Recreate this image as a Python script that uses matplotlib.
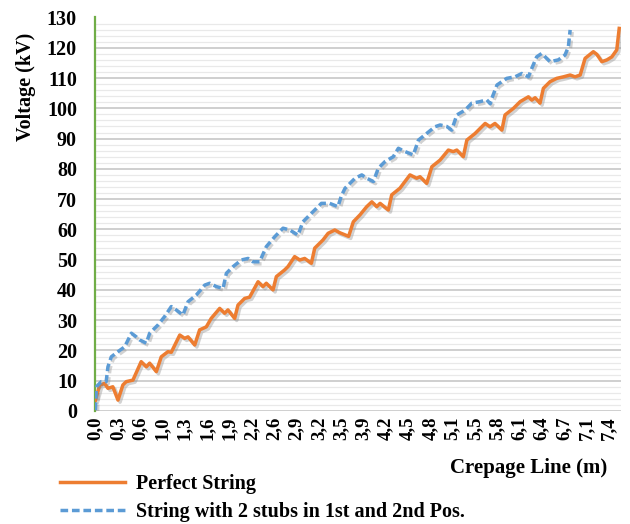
import matplotlib
matplotlib.use("Agg")
import matplotlib.pyplot as plt
import matplotlib.patheffects as pe
from matplotlib.lines import Line2D
from matplotlib.ticker import MultipleLocator

plt.rcParams["font.family"] = ["Liberation Serif", "DejaVu Serif"]
plt.rcParams["font.weight"] = "bold"

# Category labels along the crepage line (m), one every 10 samples
tick_labels = ["0,0", "0,3", "0,6", "1,0", "1,3", "1,6", "1,9", "2,2", "2,6", "2,9",
               "3,2", "3,5", "3,9", "4,2", "4,5", "4,8", "5,1", "5,5", "5,8", "6,1",
               "6,4", "6,7", "7,1", "7,4"]

# Perfect string: position in category-label units, voltage in kV
perfect_pos = [0.0, 0.19, 0.41, 0.56, 0.78, 1.01, 1.23, 1.38, 1.68, 2.05, 2.28, 2.43,
               2.73, 2.95, 3.25, 3.40, 3.78, 4.00, 4.15, 4.45, 4.67, 4.97, 5.19, 5.57,
               5.79, 5.94, 6.24, 6.39, 6.69, 6.91, 7.29, 7.51, 7.66, 7.96, 8.11, 8.48,
               8.63, 8.93, 9.16, 9.38, 9.68, 9.83, 10.20, 10.43, 10.73, 10.95, 11.35,
               11.56, 11.86, 12.16, 12.39, 12.61, 12.76, 13.13, 13.28, 13.65, 14.10,
               14.40, 14.55, 14.85, 15.08, 15.45, 15.82, 16.04, 16.20, 16.49, 16.65,
               17.02, 17.47, 17.69, 17.91, 18.22, 18.36, 18.74, 19.04, 19.41, 19.56,
               19.71, 19.93, 20.08, 20.38, 20.68, 20.98, 21.28, 21.50, 21.73, 21.95,
               22.32, 22.48, 22.70, 22.93, 23.15, 23.37, 23.48]
perfect_kv = [3.6, 8.6, 9.1, 7.5, 8.0, 3.6, 8.6, 9.7, 10.2, 16.3, 14.6, 15.8,
              13.0, 17.9, 19.6, 19.4, 25.1, 24.0, 24.5, 21.8, 26.8, 27.8, 30.6, 33.9,
              32.3, 33.4, 30.6, 35.0, 37.2, 37.6, 42.7, 41.1, 42.2, 40.0, 44.4, 46.6,
              47.7, 51.0, 49.9, 50.4, 48.8, 53.8, 56.5, 58.7, 59.8, 58.9, 57.7,
              62.5, 64.8, 67.5, 69.1, 67.5, 68.6, 66.4, 71.4, 73.6, 78.0,
              76.9, 77.4, 75.2, 80.7, 82.9, 86.2, 85.7, 86.2, 84.0, 89.5,
              91.7, 95.0, 93.9, 95.0, 92.8, 97.8, 100.0, 102.2, 103.8, 102.7,
              103.5, 101.7, 106.6, 108.8, 109.9, 110.4, 111.0, 110.4, 111.0, 116.5,
              118.7, 117.8, 115.4, 116.0, 117.0, 119.3, 126.4]

# String with 2 stubs in 1st and 2nd position
stub_pos = [0.0, 0.04, 0.26, 0.48, 0.56, 0.71, 1.01, 1.31, 1.61, 1.83, 1.98, 2.28,
            2.43, 2.80, 3.10, 3.40, 3.62, 3.92, 4.15, 4.52, 4.90, 5.12, 5.42, 5.72,
            5.87, 6.17, 6.54, 6.84, 7.06, 7.36, 7.66, 8.04, 8.41, 8.71, 9.08, 9.30,
            9.68, 10.13, 10.50, 10.87, 11.02, 11.19, 11.64, 11.94, 12.16, 12.46,
            12.68, 12.98, 13.35, 13.58, 13.88, 14.25, 14.48, 14.85, 15.22, 15.45,
            15.75, 15.97, 16.20, 16.57, 16.87, 17.24, 17.54, 17.70, 17.77, 18.00,
            18.44, 18.81, 19.11, 19.41, 19.56, 19.78, 20.00, 20.16, 20.38, 20.75,
            21.05, 21.20, 21.28]
stub_kv = [0.3, 8.0, 9.7, 9.7, 14.6, 17.9, 19.6, 21.2, 25.7, 24.5, 23.5, 22.4,
           25.7, 28.4, 31.2, 34.5, 33.4, 31.7, 36.1, 38.3, 41.6, 42.2, 41.1, 40.5,
           45.5, 47.7, 49.9, 50.4, 49.3, 49.3, 54.3, 57.6, 60.4, 59.8, 58.1, 62.5,
           65.3, 68.6, 68.6, 67.5, 71.0, 73.6, 76.9, 78.0, 76.9, 75.8,
           80.2, 82.4, 84.0, 86.8, 85.7, 84.6, 89.5, 91.7, 93.9, 94.5,
           94.0, 92.8, 97.8, 99.4, 101.7, 102.2, 102.8, 101.5, 103.3, 107.7,
           109.9, 110.4, 111.5, 110.4, 113.2, 117.0, 118.1, 117.0, 115.4, 116.0,
           117.6, 120.3, 125.9]

ORANGE = "#ED7D31"
BLUE = "#5B9BD5"
GREEN = "#70AD47"

W, H = 630, 524
fig = plt.figure(figsize=(W / 100, H / 100), dpi=100)
ax = fig.add_axes([95 / W, 1 - 411 / H, (621 - 95) / W, (411 - 17.5) / H])

shadow = [pe.SimpleLineShadow(offset=(1.5, -1.5), shadow_color="#808080", alpha=0.35),
          pe.Normal()]

ax.plot(perfect_pos, perfect_kv, color=ORANGE, lw=2.5, solid_joinstyle="round",
        path_effects=shadow, zorder=3)
ax.plot(stub_pos, stub_kv, color=BLUE, lw=2.5, dashes=(2.2, 1.1),
        dash_capstyle="butt", path_effects=shadow, zorder=3)

ax.set_xlim(-0.02, 23.56)
ax.set_ylim(0, 130)

ax.yaxis.set_major_locator(MultipleLocator(10))
ax.yaxis.set_minor_locator(MultipleLocator(2))
ax.grid(axis="y", which="major", color="#cfcfcf", lw=1.4, zorder=0)
ax.grid(axis="y", which="minor", color="#e9e9e9", lw=0.9, zorder=0)
ax.set_axisbelow(True)

ax.set_xticks(range(len(tick_labels)))
ax.set_xticklabels(tick_labels, rotation=90, fontsize=13.5, fontweight="bold")
ax.tick_params(axis="x", length=0, pad=4)
ax.tick_params(axis="y", which="both", length=0, pad=13, labelsize=14.5)
for t in ax.get_yticklabels():
    t.set_fontweight("bold")

for s in ("top", "right", "bottom"):
    ax.spines[s].set_visible(False)
ax.spines["left"].set_color(GREEN)
ax.spines["left"].set_linewidth(1.6)

fig.text(26 / W, 1 - 87 / H, "Voltage (kV)", rotation=90, ha="center", va="center",
         fontsize=14.5, fontweight="bold")
fig.text(607 / W, 1 - 468 / H, "Crepage Line (m)", ha="right", va="center",
         fontsize=15, fontweight="bold")

handles = [Line2D([], [], color=ORANGE, lw=2.5),
           Line2D([], [], color=BLUE, lw=2.5, dashes=(2.2, 1.1))]
fig.legend(handles, ["Perfect String", "String with 2 stubs in 1st and 2nd Pos."],
           loc="upper left", bbox_to_anchor=(60 / W, 1 - 474 / H), frameon=False,
           borderpad=0, borderaxespad=0, handlelength=3.25, handletextpad=0.5,
           labelspacing=0.4, prop={"size": 14.5, "weight": "bold"})

fig.savefig("out.png", dpi=100)
